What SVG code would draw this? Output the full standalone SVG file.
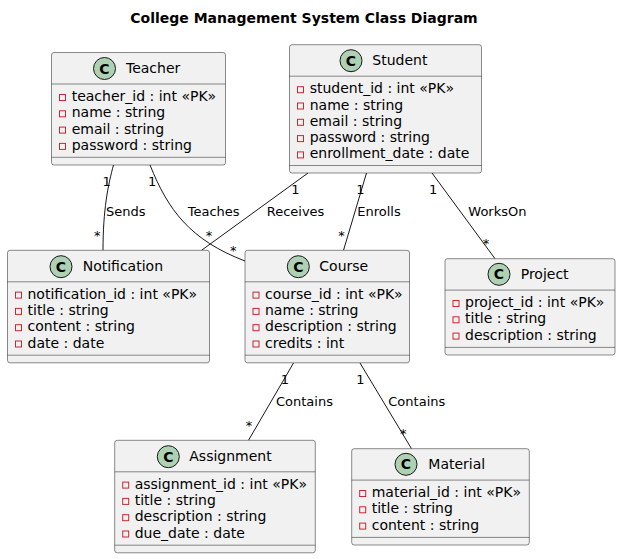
<svg xmlns="http://www.w3.org/2000/svg" width="621" height="559" viewBox="0 0 621 559">
<style>
.bg{fill:#FFFFFF}
.box{fill:#F1F1F1;stroke:#181818;stroke-width:0.5}
.sep{stroke:#181818;stroke-width:0.5}
.circ{fill:#ADD1B2;stroke:#181818;stroke-width:1}
.cl{font-family:"DejaVu Sans",sans-serif;font-size:14px;font-weight:bold;fill:#000;text-anchor:middle}
.name{font-family:"DejaVu Sans",sans-serif;font-size:14px;fill:#000}
.attr{font-family:"DejaVu Sans",sans-serif;font-size:14px;fill:#000}
.vis{fill:none;stroke:#C82930;stroke-width:1}
.edge{fill:none;stroke:#181818;stroke-width:1}
.lbl{font-family:"DejaVu Sans",sans-serif;font-size:13px;fill:#000}
.mid{text-anchor:middle}
.title{font-family:"DejaVu Sans",sans-serif;font-size:14px;font-weight:bold;fill:#000;text-anchor:middle}
</style>
<rect class="bg" x="0" y="0" width="621" height="559"/>
<text class="title" x="304" y="23">College Management System Class Diagram</text>

<g id="connectors">
  <path class="edge" d="M113.5,165 C108,185 103,210 103,250.3"/>
  <path class="edge" d="M150,165 C168,210 190,240 245,261"/>
  <path class="edge" d="M308,173 L201.5,250.3"/>
  <path class="edge" d="M366.5,173 L343.5,250.3"/>
  <path class="edge" d="M432,173 L495,258.7"/>
  <path class="edge" d="M293.5,363 L248.5,440.3"/>
  <path class="edge" d="M360,363 L411.5,448.7"/>
  <text class="lbl mid" x="106.7" y="186">1</text>
  <text class="lbl" x="106" y="216">Sends</text>
  <text class="lbl" x="94" y="240">*</text>
  <text class="lbl mid" x="152.2" y="186">1</text>
  <text class="lbl" x="187.7" y="216">Teaches</text>
  <text class="lbl" x="230" y="255">*</text>
  <text class="lbl mid" x="295.3" y="194">1</text>
  <text class="lbl" x="266.7" y="216">Receives</text>
  <text class="lbl" x="205.7" y="240">*</text>
  <text class="lbl mid" x="360.5" y="194">1</text>
  <text class="lbl" x="357.3" y="216">Enrolls</text>
  <text class="lbl" x="338.3" y="240">*</text>
  <text class="lbl mid" x="433.2" y="194">1</text>
  <text class="lbl" x="468.3" y="216">WorksOn</text>
  <text class="lbl" x="482.7" y="247.5">*</text>
  <text class="lbl mid" x="285" y="384">1</text>
  <text class="lbl" x="276" y="406">Contains</text>
  <text class="lbl" x="245.7" y="430">*</text>
  <text class="lbl mid" x="360.3" y="384">1</text>
  <text class="lbl" x="388.3" y="406">Contains</text>
  <text class="lbl" x="400" y="437.5">*</text>
</g>

<g id="Teacher">
  <rect class="box" x="51.5" y="52.5" width="174" height="112.5" rx="2.5"/>
  <circle class="circ" cx="104.5" cy="68.5" r="11"/>
  <text class="cl" x="104.5" y="73.5">C</text>
  <text class="name" x="126" y="73.3">Teacher</text>
  <line class="sep" x1="51.5" y1="84" x2="225.5" y2="84"/>
  <rect class="vis" x="59.5" y="94.5" width="6" height="6"/><text class="attr" x="71.7" y="101">teacher_id : int «PK»</text>
  <rect class="vis" x="59.5" y="110.8" width="6" height="6"/><text class="attr" x="71.7" y="117.3">name : string</text>
  <rect class="vis" x="59.5" y="127.1" width="6" height="6"/><text class="attr" x="71.7" y="133.6">email : string</text>
  <rect class="vis" x="59.5" y="143.4" width="6" height="6"/><text class="attr" x="71.7" y="149.9">password : string</text>
  <line class="sep" x1="51.5" y1="157.3" x2="225.5" y2="157.3"/>
</g>

<g id="Student">
  <rect class="box" x="289.5" y="44.7" width="192" height="128.3" rx="2.5"/>
  <circle class="circ" cx="351" cy="60.7" r="11"/>
  <text class="cl" x="351" y="65.7">C</text>
  <text class="name" x="372.3" y="65.3">Student</text>
  <line class="sep" x1="289.5" y1="76.2" x2="481.5" y2="76.2"/>
  <rect class="vis" x="297.5" y="86.7" width="6" height="6"/><text class="attr" x="309.7" y="93.2">student_id : int «PK»</text>
  <rect class="vis" x="297.5" y="103" width="6" height="6"/><text class="attr" x="309.7" y="109.5">name : string</text>
  <rect class="vis" x="297.5" y="119.3" width="6" height="6"/><text class="attr" x="309.7" y="125.8">email : string</text>
  <rect class="vis" x="297.5" y="135.6" width="6" height="6"/><text class="attr" x="309.7" y="142.1">password : string</text>
  <rect class="vis" x="297.5" y="151.9" width="6" height="6"/><text class="attr" x="309.7" y="158.4">enrollment_date : date</text>
  <line class="sep" x1="289.5" y1="165.5" x2="481.5" y2="165.5"/>
</g>

<g id="Notification">
  <rect class="box" x="7.5" y="250.3" width="202" height="112.5" rx="2.5"/>
  <circle class="circ" cx="61" cy="266.7" r="11"/>
  <text class="cl" x="61" y="271.7">C</text>
  <text class="name" x="82.7" y="270.9">Notification</text>
  <line class="sep" x1="7.5" y1="281.8" x2="209.5" y2="281.8"/>
  <rect class="vis" x="15.5" y="292.1" width="6" height="6"/><text class="attr" x="27.5" y="298.6">notification_id : int «PK»</text>
  <rect class="vis" x="15.5" y="308.4" width="6" height="6"/><text class="attr" x="27.5" y="314.9">title : string</text>
  <rect class="vis" x="15.5" y="324.7" width="6" height="6"/><text class="attr" x="27.5" y="331.2">content : string</text>
  <rect class="vis" x="15.5" y="341" width="6" height="6"/><text class="attr" x="27.5" y="347.5">date : date</text>
  <line class="sep" x1="7.5" y1="355.2" x2="209.5" y2="355.2"/>
</g>

<g id="Course">
  <rect class="box" x="245" y="250.3" width="164.5" height="112.5" rx="2.5"/>
  <circle class="circ" cx="298.3" cy="266.7" r="11"/>
  <text class="cl" x="298.3" y="271.7">C</text>
  <text class="name" x="319.3" y="270.9">Course</text>
  <line class="sep" x1="245" y1="281.8" x2="409.5" y2="281.8"/>
  <rect class="vis" x="253" y="292.1" width="6" height="6"/><text class="attr" x="265" y="298.6">course_id : int «PK»</text>
  <rect class="vis" x="253" y="308.4" width="6" height="6"/><text class="attr" x="265" y="314.9">name : string</text>
  <rect class="vis" x="253" y="324.7" width="6" height="6"/><text class="attr" x="265" y="331.2">description : string</text>
  <rect class="vis" x="253" y="341" width="6" height="6"/><text class="attr" x="265" y="347.5">credits : int</text>
  <line class="sep" x1="245" y1="355.2" x2="409.5" y2="355.2"/>
</g>

<g id="Project">
  <rect class="box" x="445" y="258.7" width="170" height="96.3" rx="2.5"/>
  <circle class="circ" cx="499" cy="274.3" r="11"/>
  <text class="cl" x="499" y="279.3">C</text>
  <text class="name" x="520.7" y="279.3">Project</text>
  <line class="sep" x1="445" y1="290.1" x2="615" y2="290.1"/>
  <rect class="vis" x="453" y="300.5" width="6" height="6"/><text class="attr" x="465" y="307">project_id : int «PK»</text>
  <rect class="vis" x="453" y="316.8" width="6" height="6"/><text class="attr" x="465" y="323.3">title : string</text>
  <rect class="vis" x="453" y="333.1" width="6" height="6"/><text class="attr" x="465" y="339.6">description : string</text>
  <line class="sep" x1="445" y1="347.4" x2="615" y2="347.4"/>
</g>

<g id="Assignment">
  <rect class="box" x="114.7" y="440.3" width="200.6" height="112.5" rx="2.5"/>
  <circle class="circ" cx="168.3" cy="456.7" r="11"/>
  <text class="cl" x="168.3" y="461.7">C</text>
  <text class="name" x="189.3" y="460.9">Assignment</text>
  <line class="sep" x1="114.7" y1="471.8" x2="315.3" y2="471.8"/>
  <rect class="vis" x="122.7" y="482.1" width="6" height="6"/><text class="attr" x="134.7" y="488.6">assignment_id : int «PK»</text>
  <rect class="vis" x="122.7" y="498.4" width="6" height="6"/><text class="attr" x="134.7" y="504.9">title : string</text>
  <rect class="vis" x="122.7" y="514.7" width="6" height="6"/><text class="attr" x="134.7" y="521.2">description : string</text>
  <rect class="vis" x="122.7" y="531" width="6" height="6"/><text class="attr" x="134.7" y="537.5">due_date : date</text>
  <line class="sep" x1="114.7" y1="545.2" x2="315.3" y2="545.2"/>
</g>

<g id="Material">
  <rect class="box" x="351.7" y="448.7" width="177.6" height="96.3" rx="2.5"/>
  <circle class="circ" cx="406" cy="464.3" r="11"/>
  <text class="cl" x="406" y="469.3">C</text>
  <text class="name" x="428.3" y="469.3">Material</text>
  <line class="sep" x1="351.7" y1="480.1" x2="529.3" y2="480.1"/>
  <rect class="vis" x="359.7" y="490.5" width="6" height="6"/><text class="attr" x="371.7" y="497">material_id : int «PK»</text>
  <rect class="vis" x="359.7" y="506.8" width="6" height="6"/><text class="attr" x="371.7" y="513.3">title : string</text>
  <rect class="vis" x="359.7" y="523.1" width="6" height="6"/><text class="attr" x="371.7" y="529.6">content : string</text>
  <line class="sep" x1="351.7" y1="537.4" x2="529.3" y2="537.4"/>
</g>
</svg>
